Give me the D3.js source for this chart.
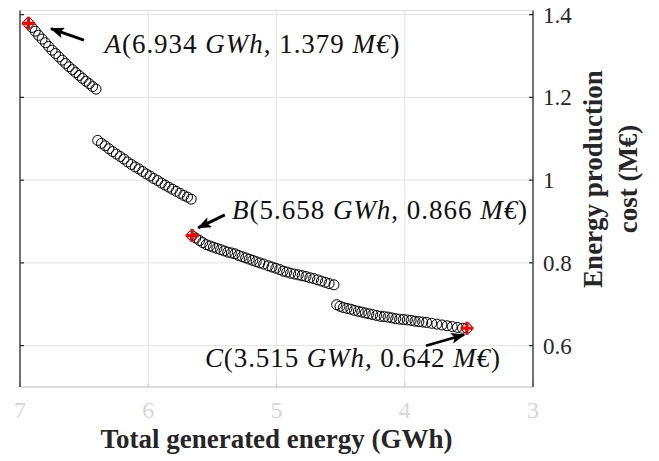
<!DOCTYPE html>
<html lang="en">
  <head>
    <meta charset="UTF-8" />
    <title>Pareto front</title>
    <script src="https://d3js.org/d3.v7.min.js"></script>
    <style>
      body {
        margin: 0;
        background: #fff;
      }
      svg {
        display: block;
        font-family: "Liberation Serif", "Times New Roman", serif;
      }
    </style>
  </head>
  <body>
    <div id="chart"></div>
    <script>
      // Pareto solutions (energy in GWh, cost in M€)
      const energyGWh = [
        6.934, 6.907, 6.881, 6.855, 6.828, 6.802, 6.776, 6.75, 6.723, 6.697,
        6.671, 6.644, 6.618, 6.591, 6.565, 6.539, 6.513, 6.486, 6.46, 6.434,
        6.407,
        6.394, 6.365, 6.336, 6.307, 6.277, 6.248, 6.219, 6.19, 6.161, 6.132,
        6.102, 6.073, 6.044, 6.015, 5.986, 5.957, 5.927, 5.898, 5.869, 5.84,
        5.811, 5.782, 5.752, 5.723, 5.694, 5.665,
        5.658, 5.63, 5.6, 5.575, 5.548, 5.52, 5.492, 5.465, 5.436, 5.408,
        5.38, 5.352, 5.324, 5.296, 5.268, 5.24, 5.212, 5.185, 5.158, 5.13,
        5.1, 5.064, 5.035, 5.005, 4.975, 4.948, 4.92, 4.89, 4.86, 4.83, 4.8,
        4.77, 4.74, 4.71, 4.68, 4.65, 4.62, 4.59, 4.552,
        4.531, 4.505, 4.478, 4.45, 4.42, 4.392, 4.362, 4.335, 4.308, 4.28,
        4.25, 4.22, 4.19, 4.16, 4.13, 4.1, 4.07, 4.04, 4.01, 3.98, 3.95,
        3.92, 3.89, 3.86, 3.83, 3.79, 3.75, 3.71, 3.67, 3.63, 3.59, 3.55,
        3.515,
      ];
      const costMEUR = [
        1.379, 1.369, 1.36, 1.35, 1.341, 1.332, 1.323, 1.314, 1.306, 1.298,
        1.29, 1.282, 1.274, 1.267, 1.26, 1.253, 1.246, 1.239, 1.233, 1.226,
        1.22,
        1.096, 1.089, 1.083, 1.076, 1.069, 1.063, 1.057, 1.051, 1.044, 1.038,
        1.032, 1.027, 1.021, 1.015, 1.01, 1.004, 0.999, 0.993, 0.988, 0.983,
        0.978, 0.973, 0.968, 0.963, 0.959, 0.954,
        0.866, 0.86, 0.854, 0.849, 0.844, 0.841, 0.838, 0.835, 0.832, 0.829,
        0.826, 0.824, 0.822, 0.818, 0.815, 0.812, 0.809, 0.806, 0.803, 0.8,
        0.797, 0.793, 0.79, 0.787, 0.784, 0.78, 0.778, 0.775, 0.773, 0.771,
        0.769, 0.767, 0.764, 0.762, 0.759, 0.756, 0.753, 0.75, 0.747,
        0.699, 0.695, 0.692, 0.69, 0.688, 0.685, 0.683, 0.681, 0.679, 0.677,
        0.675, 0.673, 0.671, 0.67, 0.669, 0.667, 0.665, 0.664, 0.663, 0.662,
        0.661, 0.659, 0.658, 0.657, 0.656, 0.654, 0.652, 0.65, 0.648, 0.646,
        0.644, 0.642, 0.642,
      ];

      // highlighted solutions
      const markLabels = ["A", "B", "C"];
      const markEnergy = [6.934, 5.658, 3.515];
      const markCost = [1.379, 0.866, 0.642];

      const xTicks = [7, 6, 5, 4, 3];
      const yTicks = [0.6, 0.8, 1, 1.2, 1.4];
      const yTickLabels = ["0.6", "0.8", "1", "1.2", "1.4"];

      // label / arrow placement relative to each marked point (pixels)
      const noteLayout = {
        A: { text: [76, 30], tail: [55.5, 16.8], tip: [22.5, 5.3] },
        B: { text: [40, -17], tail: [32.7, -20.7], tip: [6, -7.7] },
        C: { text: [-262, 38.5], tail: [-41, 17.5], tip: [-2.7, 6.5] },
      };

      const width = 659;
      const height = 461;
      const plot = { left: 20, right: 533, top: 10.5, bottom: 387 };

      const x = d3.scaleLinear().domain([7, 3]).range([plot.left, plot.right]);
      const y = d3
        .scaleLinear()
        .domain([0.5, 1.41])
        .range([plot.bottom, plot.top]);

      const svg = d3
        .select("#chart")
        .append("svg")
        .attr("width", width)
        .attr("height", height);

      // grid
      svg
        .append("g")
        .selectAll("line")
        .data(xTicks.slice(1, -1))
        .join("line")
        .attr("x1", (d) => x(d))
        .attr("x2", (d) => x(d))
        .attr("y1", plot.top)
        .attr("y2", plot.bottom)
        .attr("stroke", "#e4e4e4")
        .attr("stroke-width", 1);

      svg
        .append("g")
        .selectAll("line")
        .data(yTicks)
        .join("line")
        .attr("x1", plot.left)
        .attr("x2", plot.right)
        .attr("y1", (d) => y(d))
        .attr("y2", (d) => y(d))
        .attr("stroke", "#e4e4e4")
        .attr("stroke-width", 1);

      // box: top and bottom light, left and right dark
      svg
        .append("line")
        .attr("x1", plot.left)
        .attr("x2", plot.right)
        .attr("y1", plot.top)
        .attr("y2", plot.top)
        .attr("stroke", "#e0e0e0");
      svg
        .append("line")
        .attr("x1", plot.left)
        .attr("x2", plot.right)
        .attr("y1", plot.bottom)
        .attr("y2", plot.bottom)
        .attr("stroke", "#b8b8b8")
        .attr("stroke-width", 1.2);

      // bottom axis ticks (light)
      svg
        .append("g")
        .selectAll("line")
        .data(xTicks)
        .join("line")
        .attr("x1", (d) => x(d))
        .attr("x2", (d) => x(d))
        .attr("y1", plot.bottom)
        .attr("y2", plot.bottom - 4)
        .attr("stroke", "#c8c8c8");

      [plot.left, plot.right].forEach((px, i) => {
        svg
          .append("line")
          .attr("x1", px)
          .attr("x2", px)
          .attr("y1", plot.top)
          .attr("y2", plot.bottom)
          .attr("stroke", "#262626")
          .attr("stroke-width", 1.3);
        svg
          .append("g")
          .selectAll("line")
          .data(yTicks)
          .join("line")
          .attr("x1", px)
          .attr("x2", i === 0 ? px + 4 : px - 4)
          .attr("y1", (d) => y(d))
          .attr("y2", (d) => y(d))
          .attr("stroke", "#262626")
          .attr("stroke-width", 1.2);
      });

      // tick labels
      svg
        .append("g")
        .selectAll("text")
        .data(xTicks)
        .join("text")
        .attr("x", (d) => x(d))
        .attr("y", 418)
        .attr("text-anchor", "middle")
        .attr("font-size", 24)
        .attr("fill", "#d6d6d6")
        .text((d) => d);

      svg
        .append("g")
        .selectAll("text")
        .data(yTicks)
        .join("text")
        .attr("x", plot.right + 10)
        .attr("y", (d) => y(d) + 8)
        .attr("font-size", 23)
        .attr("fill", "#262626")
        .text((d, i) => yTickLabels[i]);

      // axis titles
      svg
        .append("text")
        .attr("x", (plot.left + plot.right) / 2)
        .attr("y", 448)
        .attr("text-anchor", "middle")
        .attr("font-size", 27)
        .attr("font-weight", "bold")
        .attr("fill", "#262626")
        .text("Total generated energy (GWh)");

      ["Energy production", "cost (M€)"].forEach((line, i) => {
        svg
          .append("text")
          .attr("transform", `translate(${602 + i * 35},179) rotate(-90)`)
          .attr("text-anchor", "middle")
          .attr("font-size", 27)
          .attr("font-weight", "bold")
          .attr("fill", "#262626")
          .text(line);
      });

      // solutions
      svg
        .append("g")
        .selectAll("circle")
        .data(energyGWh)
        .join("circle")
        .attr("cx", (d) => x(d))
        .attr("cy", (d, i) => y(costMEUR[i]))
        .attr("r", 5)
        .attr("fill", "none")
        .attr("stroke", "#000")
        .attr("stroke-width", 1);

      // red plus markers
      const marks = svg
        .append("g")
        .selectAll("g")
        .data(markLabels)
        .join("g")
        .attr(
          "transform",
          (d, i) => `translate(${x(markEnergy[i])},${y(markCost[i])})`
        );
      marks
        .append("path")
        .attr("d", "M-6.5,0H6.5M0,-6.5V6.5")
        .attr("stroke", "#ff0000")
        .attr("stroke-width", 3.2);

      // arrows
      svg
        .append("defs")
        .append("marker")
        .attr("id", "head")
        .attr("markerUnits", "userSpaceOnUse")
        .attr("viewBox", "0 0 14 11")
        .attr("refX", 13)
        .attr("refY", 5.5)
        .attr("markerWidth", 14)
        .attr("markerHeight", 11)
        .attr("orient", "auto")
        .append("path")
        .attr("d", "M0,0L14,5.5L0,11L3,5.5Z")
        .attr("fill", "#000");

      markLabels.forEach((lab, i) => {
        const px = x(markEnergy[i]);
        const py = y(markCost[i]);
        const lay = noteLayout[lab];
        svg
          .append("line")
          .attr("x1", px + lay.tail[0])
          .attr("y1", py + lay.tail[1])
          .attr("x2", px + lay.tip[0])
          .attr("y2", py + lay.tip[1])
          .attr("stroke", "#000")
          .attr("stroke-width", 2.8)
          .attr("marker-end", "url(#head)");

        const t = svg
          .append("text")
          .attr("x", px + lay.text[0])
          .attr("y", py + lay.text[1])
          .attr("font-size", 27)
          .attr("fill", "#111")
          .attr("textLength", 295)
          .attr("lengthAdjust", "spacing");
        const parts = [
          [lab, true],
          ["(" + markEnergy[i].toFixed(3) + " ", false],
          ["GWh", true],
          [", " + markCost[i].toFixed(3) + " ", false],
          ["M€", true],
          [")", false],
        ];
        parts.forEach(([s, it]) => {
          t.append("tspan")
            .attr("font-style", it ? "italic" : "normal")
            .text(s);
        });
      });
    </script>
  </body>
</html>
